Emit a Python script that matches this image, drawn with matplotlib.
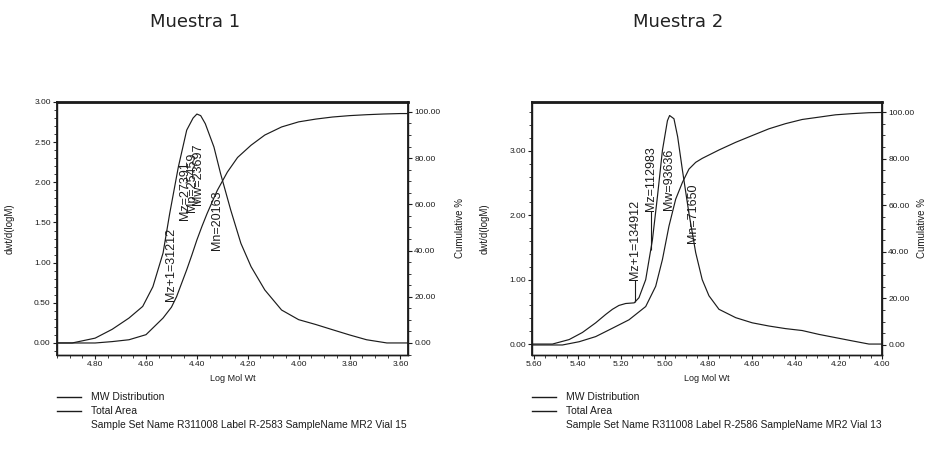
import numpy as np
import matplotlib
matplotlib.use("Agg")
import matplotlib.pyplot as plt
from matplotlib.lines import Line2D
from matplotlib.ticker import MultipleLocator, FormatStrFormatter
from matplotlib import font_manager

# Muestra 1 - MW distribution (log M, dwt/d(logM))
s1_logm = [4.95, 4.89, 4.80, 4.733, 4.667, 4.613, 4.573, 4.533, 4.507, 4.473, 4.44,
           4.415, 4.40, 4.385, 4.367, 4.333, 4.307, 4.267, 4.227, 4.187, 4.133, 4.067,
           4.0, 3.933, 3.867, 3.80, 3.733, 3.653, 3.60, 3.57]
s1_dist = [0.0, 0.0, 0.06, 0.17, 0.31, 0.455, 0.70, 1.12, 1.61, 2.19, 2.65,
           2.80, 2.85, 2.83, 2.73, 2.44, 2.11, 1.655, 1.24, 0.95, 0.66, 0.41,
           0.29, 0.23, 0.165, 0.10, 0.04, 0.0, 0.0, 0.0]
# Muestra 1 - cumulative %
s1_cum_logm = [4.95, 4.80, 4.733, 4.667, 4.60, 4.533, 4.50, 4.48, 4.44, 4.42, 4.40,
               4.38, 4.36, 4.34, 4.32, 4.30, 4.28, 4.24, 4.187, 4.133, 4.067, 4.0,
               3.933, 3.867, 3.80, 3.733, 3.667, 3.60, 3.57]
s1_cum = [0.0, 0.0, 0.6, 1.4, 3.6, 10.8, 15.5, 20.0, 31.7, 38.0, 44.6,
          50.5, 56.0, 61.0, 66.0, 70.0, 74.0, 80.3, 85.6, 90.0, 93.5, 95.7,
          96.9, 97.8, 98.4, 98.8, 99.1, 99.3, 99.3]
s1_labels = ["Mz+1=31212", "Mz=27391", "Mp=25459", "Mw=23697", "Mn=20163"]
s1_label_x = [4.50, 4.447, 4.42, 4.395, 4.32]
s1_label_y = [0.52, 1.53, 1.63, 1.72, 1.16]

# Muestra 2 - MW distribution
s2_logm = [5.61, 5.516, 5.439, 5.378, 5.317, 5.271, 5.24, 5.21, 5.179, 5.14, 5.118,
           5.087, 5.056, 5.033, 5.01, 4.987, 4.977, 4.957, 4.94, 4.918, 4.888, 4.857,
           4.827, 4.796, 4.75, 4.673, 4.597, 4.52, 4.444, 4.367, 4.29, 4.214, 4.138,
           4.06, 4.0]
s2_dist = [0.0, 0.0, 0.07, 0.18, 0.33, 0.46, 0.54, 0.60, 0.63, 0.64, 0.72,
           1.0, 1.62, 2.29, 3.01, 3.47, 3.55, 3.50, 3.22, 2.70, 2.03, 1.42,
           1.00, 0.75, 0.54, 0.41, 0.33, 0.28, 0.24, 0.21, 0.15, 0.10, 0.05,
           0.0, 0.0]
# Muestra 2 - cumulative %
s2_cum_logm = [5.61, 5.47, 5.393, 5.317, 5.24, 5.164, 5.087, 5.041, 5.01, 4.98, 4.949,
               4.918, 4.888, 4.857, 4.827, 4.75, 4.673, 4.597, 4.52, 4.444, 4.367,
               4.29, 4.214, 4.138, 4.06, 4.0]
s2_cum = [0.0, 0.0, 1.4, 3.6, 7.2, 10.8, 16.5, 25.2, 36.7, 51.0, 62.6,
          69.8, 75.5, 78.4, 80.1, 83.7, 87.0, 89.9, 92.8, 95.0, 96.8,
          97.8, 98.8, 99.3, 99.7, 99.8]
s2_labels = ["Mz+1=134912", "Mz=112983", "Mw=93636", "Mn=71650"]
s2_label_x = [5.138, 5.064, 4.98, 4.870]
s2_label_y = [1.00, 2.06, 2.08, 1.57]

titles = ["Muestra 1", "Muestra 2"]
legend_names = ["MW Distribution", "Total Area"]
sample_info = ["Sample Set Name R311008 Label R-2583 SampleName MR2 Vial 15",
               "Sample Set Name R311008 Label R-2586 SampleName MR2 Vial 13"]

W, H = 927, 454
names = {f.name for f in font_manager.fontManager.ttflist}
narrow = "Liberation Sans Narrow" if "Liberation Sans Narrow" in names else "Liberation Sans"
ink = "#1c1c1c"

fig = plt.figure(figsize=(W / 100, H / 100), dpi=100)


def px(x, y):
    return x / W, 1 - y / H


def panel(left_px, width_px, logm, dist, cum_logm, cum, xlim, ylim, ylim2,
          ymaj, ymin, labels, lab_x, lab_y, title, title_x, cum_off, info):
    ax = fig.add_axes([left_px / W, 1 - 355 / H, width_px / W, 253 / H])
    ax.plot(logm, dist, color=ink, lw=0.85)
    ax.set_xlim(*xlim)
    ax.set_ylim(*ylim)
    ax2 = ax.twinx()
    ax2.plot(cum_logm, cum, color=ink, lw=0.85)
    ax2.set_ylim(*ylim2)

    ax.xaxis.set_major_locator(MultipleLocator(0.2))
    ax.xaxis.set_minor_locator(MultipleLocator(0.05))
    ax.xaxis.set_major_formatter(FormatStrFormatter("%.2f"))
    ax.yaxis.set_major_locator(MultipleLocator(ymaj))
    ax.yaxis.set_minor_locator(MultipleLocator(ymin))
    ax.yaxis.set_major_formatter(FormatStrFormatter("%.2f"))
    ax2.yaxis.set_major_locator(MultipleLocator(20))
    ax2.yaxis.set_minor_locator(MultipleLocator(5))
    ax2.yaxis.set_major_formatter(FormatStrFormatter("%.2f"))
    for a in (ax, ax2):
        a.tick_params(which="major", length=3, width=0.8, labelsize=6, pad=1.5, colors=ink)
        a.tick_params(which="minor", length=2, width=0.6, colors=ink)
        for t in a.get_xticklabels() + a.get_yticklabels():
            t.set_fontfamily(narrow)
        for s in a.spines.values():
            s.set_color(ink)
            s.set_linewidth(1.0)
    ax.spines["top"].set_linewidth(2.0)
    ax.spines["left"].set_linewidth(1.3)
    ax2.spines["right"].set_linewidth(1.3)

    ax.set_xlabel("Log Mol Wt", fontsize=6.5, family=narrow, labelpad=4, color=ink)
    ax.set_ylabel("dwt/d(logM)", fontsize=7, family=narrow, color=ink)
    ax.yaxis.set_label_coords(-42 / width_px, 0.5)
    ax2.set_ylabel("Cumulative %", fontsize=7, family=narrow, color=ink, rotation=90)
    ax2.yaxis.set_label_coords(1 + cum_off / width_px, 0.5)

    # peak annotations with small marker lines where the label sits above the curve
    for txt, lx, ly in zip(labels, lab_x, lab_y):
        ax.text(lx, ly, txt, rotation=90, ha="center", va="bottom",
                fontsize=9, family="Liberation Sans", color=ink)
        cv = np.interp(lx, logm[::-1], dist[::-1])
        if cv < ly:
            ax.vlines(lx, cv, ly, color=ink, lw=0.8)

    fig.text(*px(title_x, 22), title, fontsize=13, family="DejaVu Sans",
             ha="center", va="center", color="#222222")

    # legend block under the plot
    for i, name in enumerate(legend_names):
        y = 397 + 14 * i
        fig.add_artist(Line2D([left_px / W, (left_px + 24) / W], [1 - y / H, 1 - y / H],
                              color=ink, lw=1.0))
        fig.text(*px(left_px + 34, y), name, fontsize=7.5, family=narrow,
                 ha="left", va="center", color=ink)
    fig.text(*px(left_px + 34, 425), info, fontsize=7.4, family=narrow,
             ha="left", va="center", color=ink)


panel(57, 351, s1_logm, s1_dist, s1_cum_logm, s1_cum, (4.95, 3.57), (-0.15, 3.0),
      (-5.2, 104.3), 0.5, 0.1, s1_labels, s1_label_x, s1_label_y, titles[0], 195, 47,
      sample_info[0])
panel(532, 350, s2_logm, s2_dist, s2_cum_logm, s2_cum, (5.61, 4.0), (-0.17, 3.76),
      (-4.3, 104.3), 1.0, 0.2, s2_labels, s2_label_x, s2_label_y, titles[1], 678, 35,
      sample_info[1])

fig.savefig("out.png", dpi=100, facecolor="white")
